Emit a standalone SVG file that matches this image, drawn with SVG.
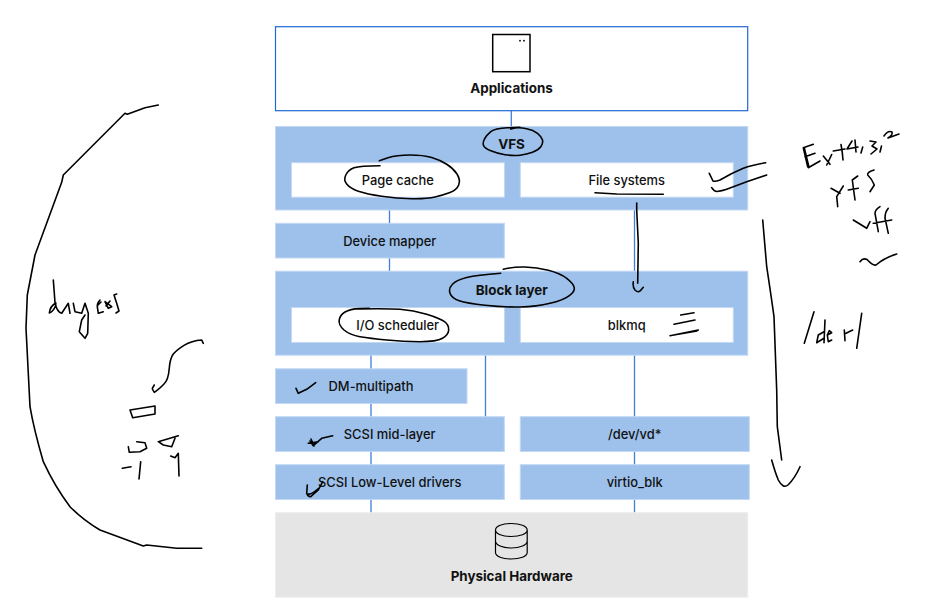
<svg xmlns="http://www.w3.org/2000/svg" width="950" height="603" viewBox="0 0 950 603">
<style>
.b{fill:#9dc1eb;stroke:#c2d8f3;stroke-width:1}
.w{fill:#fff;stroke:#c2d8f3;stroke-width:1}
.c{stroke:#3f7fdc;stroke-width:1.3;fill:none}
.t{font-family:"Inter","Liberation Sans",sans-serif;font-size:12.9px;font-weight:500;fill:#111;text-anchor:middle}
.h{font-size:13.4px;font-weight:700}
.i{fill:none;stroke:#000;stroke-width:1.6;stroke-linecap:round;stroke-linejoin:round}
.k{fill:none;stroke:#000;stroke-width:1.5}
</style>
<rect width="950" height="603" fill="#fff"/>
<g id="connectors">
<path class="c" d="M511.3 111V127M389.5 210V271M634.5 210V271M371 355V369M485.5 355V417M634.5 355V417M371 403V417M371 451V465M634.5 451V465M371 499V513M634.5 499V513"/>
</g>
<g id="applications">
<rect x="275.5" y="26.7" width="472.2" height="84" fill="#fff" stroke="#1f69d2" stroke-width="1.2"/>
<rect class="k" x="492.7" y="34.5" width="37.3" height="37.2"/>
<circle cx="520" cy="40.7" r="0.9"/><circle cx="524" cy="40.7" r="0.9"/>
<text class="t h" x="511.5" y="93">Applications</text>
</g>
<g id="vfs">
<rect class="b" x="275.5" y="126.5" width="472.2" height="83.5"/>
<text class="t h" x="511.5" y="149">VFS</text>
</g>
<g id="page-cache"><rect class="w" x="291.5" y="162.7" width="213" height="34.5"/><text class="t" x="397.8" y="184.6">Page cache</text></g>
<g id="file-systems"><rect class="w" x="520.3" y="162.7" width="213" height="34.5"/><text class="t" x="626.7" y="184.6">File systems</text></g>
<g id="device-mapper"><rect class="b" x="275.5" y="223.3" width="228.8" height="34.7"/><text class="t" x="389.7" y="245.6">Device mapper</text></g>
<g id="block-layer"><rect class="b" x="275.5" y="271.2" width="472.2" height="84"/><text class="t h" x="511.7" y="294.5">Block layer</text></g>
<g id="io-scheduler"><rect class="w" x="291.5" y="307.5" width="213" height="35"/><text class="t" x="397.7" y="330">I/O scheduler</text></g>
<g id="blkmq"><rect class="w" x="520.3" y="307.5" width="213" height="35"/><text class="t" x="626.7" y="330">blkmq</text></g>
<g id="dm-multipath"><rect class="b" x="275.5" y="368.8" width="191.5" height="34.7"/><text class="t" x="371" y="391.3">DM-multipath</text></g>
<g id="scsi-mid"><rect class="b" x="275.5" y="416.7" width="228.8" height="34.8"/><text class="t" x="389.7" y="439">SCSI mid-layer</text></g>
<g id="dev-vd"><rect class="b" x="520.3" y="416.7" width="229" height="34.8"/><text class="t" x="634.7" y="439">/dev/vd*</text></g>
<g id="scsi-low"><rect class="b" x="275.5" y="464.7" width="228.8" height="34.8"/><text class="t" x="389.7" y="486.6">SCSI Low-Level drivers</text></g>
<g id="virtio-blk"><rect class="b" x="520.3" y="464.7" width="229" height="34.8"/><text class="t" x="634.7" y="486.6">virtio_blk</text></g>
<g id="hardware">
<rect x="275.5" y="512.7" width="472.2" height="84.5" fill="#e5e5e5" stroke="#ededed"/>
<path fill="none" stroke="#000" stroke-width="1.2" d="M495.5 530V552.5C495.5 556.5 502.5 559 511.3 559S527.2 556.5 527.2 552.5V530M495.5 530C495.5 526 502.5 523.5 511.3 523.5S527.2 526 527.2 530S520 536.5 511.3 536.5S495.5 534 495.5 530ZM495.5 541C495.5 545 502.5 548 511.3 548S527.2 545 527.2 541"/>
<text class="t h" x="511.7" y="581">Physical Hardware</text>
</g>
<g id="ink">
<path class="i" d="M510.7 129L515 128Q520 127.3 526.7 128.7Q533.3 130 537.5 133.3Q541.7 136.7 542.5 140Q543.3 143.3 540.8 146.7Q538.3 150 532.5 152.2Q526.7 154.3 520 155.2Q513.3 156 505 154.7Q496.7 153.3 490.8 150.8Q485 148.3 483.7 145.8Q482.3 143.3 484.5 139Q486.7 135 490.8 131.7Q495 128.3 507.5 127.8L520 127.3"/>
<path class="i" d="M379.3 160.7L388 157.8Q396.7 155 410 155Q423.3 155 431.7 157.5Q440 160 446.7 164.2Q453.3 168.3 457 174Q460.7 180 458.7 185Q456.7 190 450 192.5Q443.3 195 435 197Q426.7 199 411.7 198.7Q396.7 198.3 381.7 196.2Q366.7 194 358.3 191.2Q350 188.3 346.7 184Q343.3 180 345.8 175Q348.3 170 354 167.8Q360 165.7 380 165.7"/>
<path class="i" d="M595 192.7L616.7 194L663.3 194.3"/>
<path class="i" d="M709.3 173.3L713 181Q715 182 720 180Q732 173 743.3 168.3Q752 165 765.7 162.7M711.7 187.7Q714 191.5 717 191.5Q722 191 726.7 189.3L746.7 181.7L766.7 175"/>
<path class="i" d="M803.3 147.7L807.7 166.7M804.3 148L808.7 166M803.3 147.7L813.3 144.3M805 156.7L815 153.3M808.3 167.7L820 161M823.3 156L830 164.3M831.7 154.5L826.7 165M833.3 151L845 149M841 144.5Q842.5 152 843 160M852 141L847 149L858 147M855 140L856 152M862.7 147L861 153M870 141L876 142L872 146L877 149L871 154M881.5 146L880 152M884 136Q888 130 892 132Q893 135 888 138L899 134"/>
<path class="i" d="M831 188.3L840 193.3M843.3 186L836.7 196.7L837.7 206.7M857.7 176L852.3 180L855 200M848.3 190L858.3 188.3M874 170Q867 172 867.7 175Q872 179 874.3 185L870 191.7"/>
<path class="i" d="M853.3 220L866.7 228.3M870 221.7L866.7 228.3M880 206.7Q875 210 875 213.3L878.3 231.7M873.3 223.3L891.7 220M888.3 208.3Q885 212 885 218L888.3 233.3"/>
<path class="i" d="M860 261.7Q863 257.5 867 259.5Q873 266 876 265Q884 258 896.7 254"/>
<path class="i" d="M762.7 220L766.7 266.7Q771 295 774 316.7L776.7 390L777.3 426.7L781.7 460M771.7 460Q775 472 778.3 480Q783 489 788 485Q795 478 800 466.7"/>
<path class="i" d="M814 311.7L804.3 343.3M825 320L824 342.7M824 331.7L818.3 335L816.7 342.7L824 338.3M827.3 335L831.7 332.7L829.3 330.7L827.3 335L828.3 341.7L831.7 340M844.3 330L845 340.7M846 333.3L852.7 330M861.7 313.3L856.7 348.3"/>
<path class="i" d="M636.7 203L636.7 210L638.3 243.3L637.7 283.3M633.3 281.7Q632.5 287 635 290Q638.5 293.5 641 290L643.3 287.3"/>
<path class="i" d="M503.3 269.3Q513.3 266.7 525 267Q536.7 267.3 548.3 270.3Q560 273.3 566.7 278.3Q573.3 283.3 574.2 287.5Q575 291.7 569 295.8Q563.3 300 550 303.3Q536.7 306.7 520 307Q503.3 307.3 485 305.3Q466.7 303.3 459.2 300.8Q451.7 298.3 450 293.3Q448.3 288.3 452.5 284.2Q456.7 280 466.7 277.5Q476.7 275 500.7 273.3"/>
<path class="i" d="M369.3 308.3L359.6 308.6Q350 309 345 312Q340 315 339.2 320Q338.3 325 344 330Q350 335 360 336.7Q370 338.3 386.7 340Q403.3 341.7 420 341.7Q436.7 341.7 442.5 338.3Q448.3 335 448.7 330Q449 325 444.5 321.7Q440 318.3 426.7 314.2Q413.3 310 400 309.2Q386.7 308.3 353 309"/>
<path class="i" d="M680.7 315L694 312.7M674 324.3L695 320M670 335.7L698.3 330M671 335.5L697 331"/>
<path class="i" d="M296 388.3L298.3 393.3L306.7 389.3L315.7 382.7"/>
<path class="i" d="M332.7 435.7L321.7 438.3L313.3 445.7L310 441M308.3 443.3L318.3 441.7M311 439L314 446"/>
<path class="i" d="M307.3 485L306.7 493.3Q308 497 310.7 496.7L318.3 490L322.7 481.7M308.5 494Q311 495 319 488"/>
<path class="i" d="M158.3 105L145 107.7L127.3 114.3L125 113.3L63.3 175L61.7 182.3L35 255L27.3 295L26 328.3L30 406.7Q34 430 43.3 461.7Q55 487 70 506.7Q83 520 100 530L143.3 546L146.7 545L176.7 548.3L201.7 548.3"/>
<path class="i" d="M53.3 280Q54.5 295 55 303Q57 312 61.7 313.3L68.3 303.3L70 313.3M56 303Q50 306 49.3 313Q53 312 56 305M73.3 303.3L75 311.7L81.7 313.3L85 303.3L88.3 313.3L87.7 333.3L85 338.3L79.3 331.7L81.7 320L85 315M100 300Q97 303 97.3 306.7L98.3 313.3L103.3 311.7M98 305L101 302M105 301.7L111.7 306.7L108.3 308.3L105 301.7M110 301L106 306M116.7 294L114 295L116.7 303.3L119 311L116 313"/>
<path class="i" d="M203.3 343.3L201.7 340Q191.7 340.7 184 345.4Q176.7 350 173.3 354Q170 358.3 169.2 369Q168.3 380 164 384Q160 388.3 157 390.3L154.3 392.3Q152.3 390 152.3 388.3L154.3 385"/>
<path class="i" d="M130 410L155 406L155 414L132.7 417.7Z"/>
<path class="i" d="M136.7 441.7L145 442.7L146.7 448.3L140 451.7L129.3 452.3L128.3 446.7M178.3 435.7L158.3 441.7L163.3 445L171.7 446.7L175 438.3M122.3 468.3L131 466.7M140.7 461.7L139 479M170.7 456L175 457.7L178.3 453.3L179 476"/>
</g>
</svg>
